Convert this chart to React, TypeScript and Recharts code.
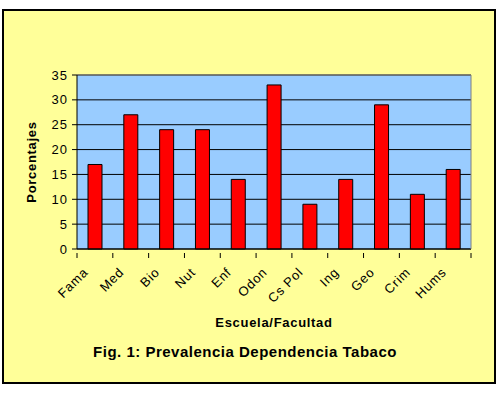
import React from 'react'
import {
  BarChart,
  Bar,
  XAxis,
  YAxis,
  CartesianGrid,
  ReferenceLine,
} from 'recharts'

const escuelas = ['Fama', 'Med', 'Bio', 'Nut', 'Enf', 'Odon', 'Cs Pol', 'Ing', 'Geo', 'Crim', 'Hums']
const porcentajes = [17, 27, 24, 24, 14, 33, 9, 14, 29, 11, 16]
const yTicks = [0, 5, 10, 15, 20, 25, 30, 35]

const data = escuelas.map((name, i) => ({ name, valor: porcentajes[i] }))

const FONT = '"Liberation Sans", Arial, sans-serif'

// tick label rotated + tick marks at the category edges
function EdgeTick(props: any) {
  const { x, y, payload, index } = props
  const half = payload && payload.offset ? payload.offset : 0
  const axisY = y - 2
  return (
    <g>
      <line x1={x - half} y1={axisY - 2} x2={x - half} y2={axisY + 3} stroke="#000" />
      {index === escuelas.length - 1 && (
        <line x1={x + half} y1={axisY - 2} x2={x + half} y2={axisY + 3} stroke="#000" />
      )}
      <g transform={`translate(${x - 6},${y + 16}) rotate(-45)`}>
        <text x={0} y={0} textAnchor="end" fontSize={13} letterSpacing={0.8} fontFamily={FONT} fill="#000">
          {payload.value}
        </text>
      </g>
    </g>
  )
}

function YLabel(props: any) {
  const { viewBox } = props
  const cx = viewBox.x + 31
  const cy = viewBox.y + viewBox.height / 2
  return (
    <text
      x={cx}
      y={cy}
      transform={`rotate(-90, ${cx}, ${cy})`}
      textAnchor="middle"
      dominantBaseline="central"
      fontSize={13}
      letterSpacing={0.7}
      fontWeight="bold"
      fontFamily={FONT}
      fill="#000"
    >
      Porcentajes
    </text>
  )
}

export default function App() {
  return (
    <div style={{ position: 'absolute', left: 0, top: 0, width: 497, height: 393, background: '#fff' }}>
      <div
        style={{
          position: 'absolute',
          left: 2,
          top: 9,
          width: 494,
          height: 375,
          boxSizing: 'border-box',
          border: '2px solid #000',
          background: '#FFFF99',
        }}
      />
      <div style={{ position: 'absolute', left: 0, top: 0 }}>
        <BarChart
          width={497}
          height={393}
          data={data}
          margin={{ top: 75, right: 25, left: 0, bottom: 84 }}
        >
          <CartesianGrid fill="#99CCFF" stroke="#000" vertical={false} />
          <XAxis
            dataKey="name"
            height={60}
            interval={0}
            tickLine={false}
            axisLine={{ stroke: '#000' }}
            tick={<EdgeTick />}
            label={{
              value: 'Escuela/Facultad',
              position: 'bottom',
              offset: 9,
              fontSize: 13,
              letterSpacing: 0.7,
              fontWeight: 'bold',
              fontFamily: FONT,
              fill: '#000',
            }}
          />
          <YAxis
            width={77}
            domain={[0, 35]}
            ticks={yTicks}
            interval={0}
            tickSize={5}
            tickMargin={4}
            axisLine={{ stroke: '#000' }}
            tickLine={{ stroke: '#000' }}
            tick={{ fontSize: 13, letterSpacing: 1, fontFamily: FONT, fill: '#000' }}
            label={<YLabel />}
          />
          <YAxis
            yAxisId="borde"
            orientation="right"
            width={1}
            domain={[0, 35]}
            tick={false}
            tickLine={false}
            axisLine={{ stroke: '#808080' }}
          />
          <ReferenceLine y={35} stroke="#808080" />
          <Bar dataKey="valor" fill="#FF0000" stroke="#000" strokeWidth={1} barSize={14} isAnimationActive={false} />
        </BarChart>
      </div>
      <div
        style={{
          position: 'absolute',
          left: 0,
          width: 490,
          top: 343,
          textAlign: 'center',
          fontFamily: FONT,
          fontWeight: 'bold',
          fontSize: 15,
          letterSpacing: 0.5,
          lineHeight: '18px',
        }}
      >
        Fig. 1: Prevalencia Dependencia Tabaco
      </div>
    </div>
  )
}
